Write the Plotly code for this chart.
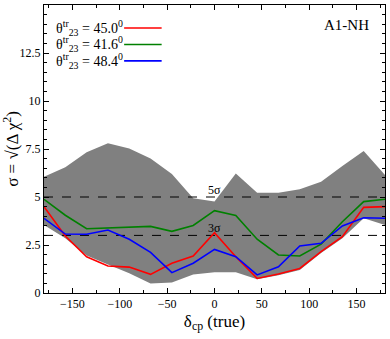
import plotly.graph_objects as go

# ---------------- data ----------------
delta_cp = [-180, -157.5, -135, -112.5, -90, -67.5, -45, -22.5, 0,
            22.5, 45, 67.5, 90, 112.5, 135, 157.5, 180]

sig_450 = [4.50, 2.97, 1.89, 1.41, 1.35, 0.97, 1.55, 1.93, 3.14,
           1.89, 0.76, 0.99, 1.28, 2.15, 2.93, 4.46, 4.50]
sig_416 = [4.88, 4.05, 3.35, 3.40, 3.45, 3.47, 3.21, 3.52, 4.29,
           4.04, 2.80, 1.98, 1.93, 2.54, 3.71, 4.76, 4.88]
sig_484 = [3.89, 3.07, 3.06, 3.28, 2.80, 2.12, 1.06, 1.55, 2.27,
           1.89, 0.94, 1.37, 2.45, 2.59, 3.49, 3.92, 3.89]

band_upper = [6.06, 6.55, 7.33, 7.80, 7.53, 7.01, 6.20, 4.93, 4.76,
              6.22, 5.22, 5.22, 5.40, 5.80, 6.61, 7.40, 6.15]
band_lower = [3.54, 2.85, 1.95, 1.48, 1.03, 0.50, 0.55, 0.97, 1.08,
              1.08, 0.72, 0.93, 1.20, 2.08, 2.85, 3.89, 3.54]

sigma_levels = [3, 5]
sigma_labels = ['3σ', '5σ']

labels = ['θ<sup>tr</sup><sub>23</sub> = 45.0<sup>0</sup>',
          'θ<sup>tr</sup><sub>23</sub> = 41.6<sup>0</sup>',
          'θ<sup>tr</sup><sub>23</sub> = 48.4<sup>0</sup>']
colors = ['#ff0000', '#008000', '#0000ff']
series = [sig_450, sig_416, sig_484]

serif = 'Liberation Serif'

fig = go.Figure()

# gray band
fig.add_trace(go.Scatter(x=delta_cp + delta_cp[::-1],
                         y=band_upper + band_lower[::-1],
                         fill='toself', fillcolor='#808080',
                         line=dict(width=0), mode='lines',
                         hoverinfo='skip', showlegend=False))

# sigma lines
for lev, lab in zip(sigma_levels, sigma_labels):
    fig.add_trace(go.Scatter(x=[delta_cp[0], delta_cp[-1]], y=[lev, lev],
                             mode='lines', line=dict(color='black', width=1, dash='dash'),
                             showlegend=False))
    fig.add_annotation(x=0, y=lev, text=lab, showarrow=False, yanchor='bottom',
                       yshift=-2, font=dict(family=serif, size=12, color='black'))

for s, c in zip(series, colors):
    fig.add_trace(go.Scatter(x=delta_cp, y=s, mode='lines',
                             line=dict(color=c, width=1.6), showlegend=False))

# hand-made legend (text left, line sample right)
for i, (lab, c) in enumerate(zip(labels, colors)):
    yy = 0.92 - i * 0.057
    fig.add_annotation(xref='paper', yref='paper', x=0.03, y=yy, text=lab,
                       showarrow=False, xanchor='left', yanchor='middle',
                       font=dict(family=serif, size=14, color='black'))
    fig.add_shape(type='line', xref='paper', yref='paper',
                  x0=0.235, x1=0.345, y0=yy, y1=yy,
                  line=dict(color=c, width=1.6))

fig.add_annotation(xref='paper', yref='paper', x=0.96, y=0.93, text='A1-NH',
                   showarrow=False, xanchor='right', yanchor='middle',
                   font=dict(family=serif, size=15, color='black'))

axis_common = dict(showline=True, linecolor='black', linewidth=1, mirror='ticks',
                   ticks='inside', ticklen=5, tickcolor='black', showgrid=False,
                   zeroline=False, automargin=False,
                   tickfont=dict(family=serif, size=12, color='black'))

fig.update_xaxes(range=[-180, 180], dtick=50, tick0=0,
                 minor=dict(dtick=25, ticks='inside', ticklen=3, tickcolor='black'),
                 title=dict(text='δ<sub>cp</sub> (true)', standoff=4,
                            font=dict(family=serif, size=17, color='black')),
                 **axis_common)
fig.update_yaxes(range=[0, 15], dtick=2.5, tick0=0,
                 minor=dict(dtick=0.5, ticks='inside', ticklen=3, tickcolor='black'),
                 title=dict(text='σ = √(Δ χ<sup>2</sup>)', standoff=4,
                            font=dict(family=serif, size=17, color='black')),
                 **axis_common)

fig.update_layout(width=390, height=339, plot_bgcolor='white', paper_bgcolor='white',
                  margin=dict(l=44, r=5, t=5, b=46), showlegend=False)

# page body has a default 8px margin; remove it so the figure sits at the corner
fig.write_html("out.html", config={'displayModeBar': False},
               post_script="document.body.style.margin='0';")
